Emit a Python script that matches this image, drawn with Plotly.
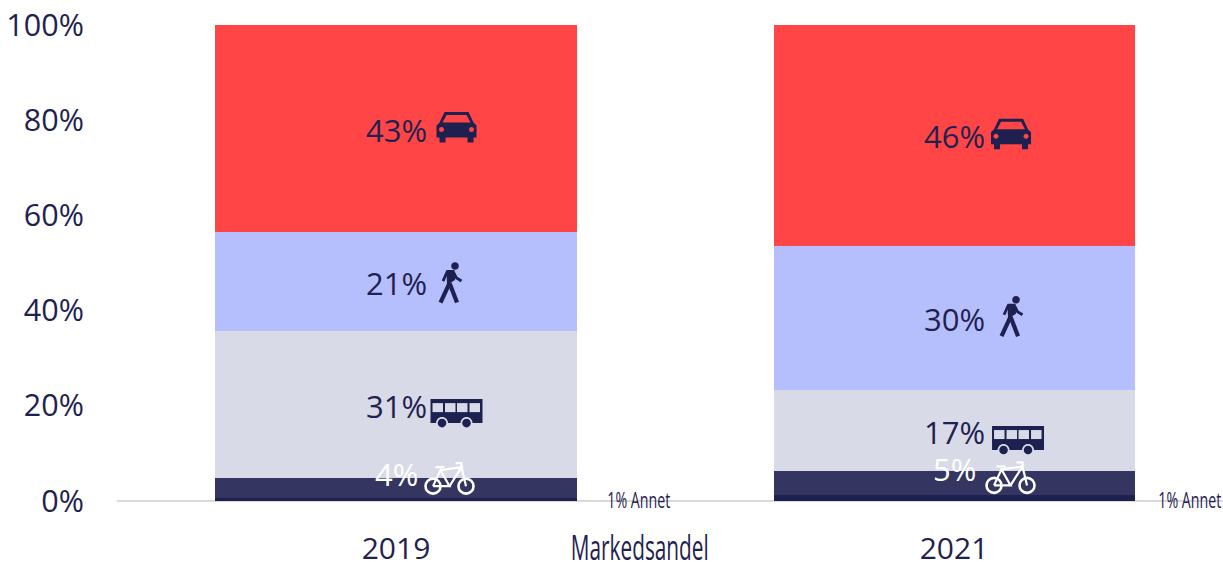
import re
import plotly.graph_objects as go

years = ["2019", "2021"]
annet = [0.6, 1.2]
sykkel = [4.2, 5.0]
buss = [30.9, 17.2]
gange = [20.8, 30.2]
bil = [43.5, 46.5]
lbl_sykkel = ["4%", "5%"]
lbl_buss = ["31%", "17%"]
lbl_gange = ["21%", "30%"]
lbl_bil = ["43%", "46%"]
lbl_annet = ["1% Annet", "1% Annet"]
y_ticks = [0, 20, 40, 60, 80, 100]
y_tick_labels = ["0%", "20%", "40%", "60%", "80%", "100%"]

RED, BLUE, GREY, NAVY, DARK = "#FF4545", "#B6BFFE", "#D8DAE8", "#343661", "#1E2050"
TXT = "#1F2250"
FONT = "Open Sans"

fig = go.Figure()
for name, vals, col in [("Annet", annet, DARK), ("Sykkel", sykkel, NAVY), ("Buss", buss, GREY),
                        ("Gange", gange, BLUE), ("Bil", bil, RED)]:
    fig.add_bar(x=years, y=vals, name=name, marker=dict(color=col, line=dict(width=0)), width=0.647)

shapes = []
TOK = r"[MLCZ]|-?\d+\.?\d*(?:e-?\d+)?"


def circle(cx, cy, r):
    k = 0.5523 * r
    return (f"M{cx - r},{cy} C{cx - r},{cy - k} {cx - k},{cy - r} {cx},{cy - r} "
            f"C{cx + k},{cy - r} {cx + r},{cy - k} {cx + r},{cy} "
            f"C{cx + r},{cy + k} {cx + k},{cy + r} {cx},{cy + r} "
            f"C{cx - k},{cy + r} {cx - r},{cy + k} {cx - r},{cy} Z")


def poly(points, close=True):
    s = "M" + " L".join(f"{x},{y}" for x, y in points)
    return s + (" Z" if close else "")


def place(idx, ymid, dx, dy, path, fill=None, stroke=None, width=0):
    # local icon paths are y-down pixels; shape pixel paths are y-up
    out, isx = [], True
    for t in re.findall(TOK, path):
        if t in "MLCZ":
            out.append(t)
            isx = True
        elif isx:
            out.append(f"{float(t) + dx:.2f},")
            isx = False
        else:
            out.append(f"{-(float(t) + dy):.2f} ")
            isx = True
    shapes.append(dict(type="path", xref="x", yref="y", xsizemode="pixel", ysizemode="pixel",
                       xanchor=idx, yanchor=ymid, path="".join(out),
                       fillcolor=fill if fill else "rgba(0,0,0,0)",
                       line=dict(color=stroke if stroke else "rgba(0,0,0,0)", width=width)))


def car(i, m, dx, dy):
    body = poly([(-12, -15.5), (12, -15.5), (17, -5), (20, -2), (20, 10), (17, 10), (17, 15), (11, 15), (11, 10),
                 (-11, 10), (-11, 15), (-17, 15), (-17, 10), (-20, 10), (-20, -2), (-17, -5)])
    place(i, m, dx, dy, body, fill=DARK)
    place(i, m, dx, dy, poly([(-10, -12.5), (10, -12.5), (14, -5), (-14, -5)]), fill=RED)
    place(i, m, dx, dy, circle(-15, 2, 2.5), fill=RED)
    place(i, m, dx, dy, circle(15, 2, 2.5), fill=RED)


def walker(i, m, dx, dy):
    place(i, m, dx, dy, circle(4.5, -17, 3.8), fill=DARK)
    place(i, m, dx, dy, poly([(-4, -13), (4, -13), (4.5, -3), (-3.5, 2)]), fill=DARK)
    place(i, m, dx, dy, poly([(-1, 0), (-10, 19.5)], close=False), stroke=DARK, width=4.2)
    place(i, m, dx, dy, poly([(-1, 0), (6.5, 19.5)], close=False), stroke=DARK, width=4.2)
    place(i, m, dx, dy, poly([(-3, -12), (-7.5, -2)], close=False), stroke=DARK, width=2.8)
    place(i, m, dx, dy, poly([(3, -11), (6, -5), (11, -2)], close=False), stroke=DARK, width=2.8)


def bus(i, m, dx, dy):
    place(i, m, dx, dy, poly([(-26, -12), (26, -12), (26, 12), (-26, 12)]), fill=DARK)
    for wx in (-24, -11.5, 0.5, 13):
        place(i, m, dx, dy, poly([(wx, -8), (wx + 10.5, -8), (wx + 10.5, 1), (wx, 1)]), fill=GREY)
    for wx in (-14.5, 10):
        place(i, m, dx, dy, circle(wx, 12, 6), fill=GREY)
        place(i, m, dx, dy, circle(wx, 12, 4.3), fill=DARK)


def bike(i, m, dx, dy):
    w = "#FFFFFF"
    place(i, m, dx, dy, circle(-16.5, 6, 7.5), stroke=w, width=2.6)
    place(i, m, dx, dy, circle(16.5, 6, 7.5), stroke=w, width=2.6)
    for pts in ([(-16.5, 6), (-9, -10), (0, 6), (-16.5, 6)],
                [(-9, -10), (12, -13), (0, 6)],
                [(12, -13), (16.5, 6)],
                [(-14, -13), (-5, -13)],
                [(6, -17), (12, -17), (12, -13)]):
        place(i, m, dx, dy, poly(pts, close=False), stroke=w, width=2.2)


def label(i, m, text, color, yshift):
    fig.add_annotation(x=i, y=m, text=text, showarrow=False, yshift=yshift, xanchor="center", yanchor="middle",
                       font=dict(family=FONT, size=31, color=color))


for i in range(2):
    base = annet[i]
    m_s = base + sykkel[i] / 2
    base += sykkel[i]
    m_b = base + buss[i] / 2
    base += buss[i]
    m_g = base + gange[i] / 2
    base += gange[i]
    m_c = base + bil[i] / 2
    label(i, m_c, lbl_bil[i], TXT, -1)
    label(i, m_g, lbl_gange[i], TXT, -1)
    label(i, m_b, lbl_buss[i], TXT, -1)
    label(i, m_s, lbl_sykkel[i], "#FFFFFF", 14)
    car(i, m_c, [60.5, 57][i], -1)
    walker(i, m_g, [54.5, 57.5][i], [1.5, -1][i])
    bus(i, m_b, [60.5, 64][i], [6.5, 7.5][i])
    bike(i, m_s, [53.5, 56.5][i], [-8, -4][i])
    fig.add_annotation(x=i, y=0, text=lbl_annet[i], showarrow=False, xanchor="left", yanchor="middle",
                       xshift=[192, 185][i], yshift=2, font=dict(family=FONT, size=22, color=TXT))

fig.add_annotation(xref="paper", yref="paper", x=(640 - 117) / 1106, y=-46 / 476, text="Markedsandel",
                   showarrow=False, xanchor="center", yanchor="middle",
                   font=dict(family=FONT, size=34, color=TXT))

fig.update_layout(
    barmode="stack", width=1223, height=562, showlegend=False,
    margin=dict(l=117, r=0, t=25, b=61, pad=0),
    paper_bgcolor="white", plot_bgcolor="white", shapes=shapes,
    font=dict(family=FONT, color=TXT),
    xaxis=dict(type="category", range=[-0.5, 1.482], showgrid=False, zeroline=False, automargin=False,
               showline=False, ticks="outside", ticklen=21, tickcolor="rgba(0,0,0,0)",
               tickfont=dict(family=FONT, size=30, color=TXT)),
    yaxis=dict(range=[0, 100], tickvals=y_ticks, ticktext=y_tick_labels, showgrid=False, automargin=False,
               zeroline=True, zerolinecolor="#D9D9D9", zerolinewidth=2, showline=False,
               ticks="outside", ticklen=26, tickcolor="rgba(0,0,0,0)",
               tickfont=dict(family=FONT, size=30.5, color=TXT)),
)

# The reference's condensed face is not installed: squeeze these real text elements to its widths.
post = """
document.body.style.margin='0';
var squeeze={'Markedsandel':138,'1% Annet':63};
document.querySelectorAll('.annotation-text').forEach(function(t){
  var w=squeeze[t.textContent];
  if(w){t.setAttribute('textLength',w);t.setAttribute('lengthAdjust','spacingAndGlyphs');}
});
"""
fig.write_html("out.html", post_script=post, config=dict(displayModeBar=False))
